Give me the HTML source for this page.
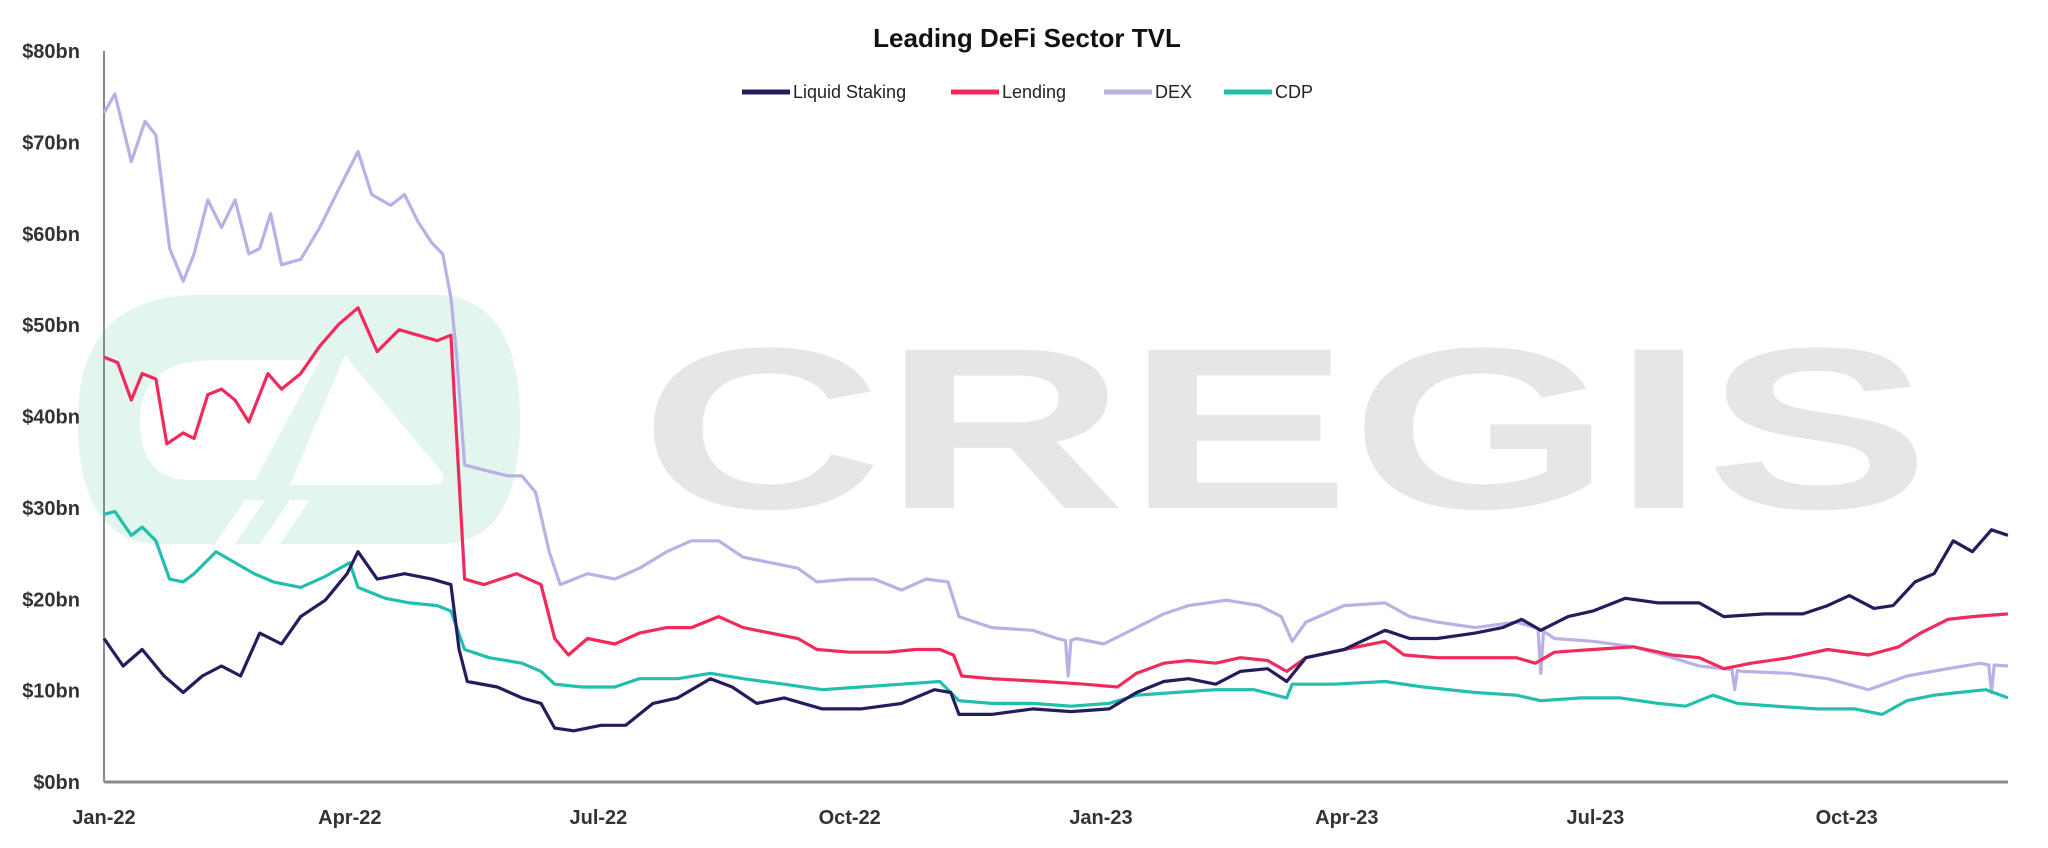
<!DOCTYPE html>
<html><head><meta charset="utf-8"><style>
html,body{margin:0;padding:0;background:#fff;}
svg{display:block;font-family:"Liberation Sans",sans-serif;}
</style></head><body>
<svg id="chart" width="2048" height="848" viewBox="0 0 2048 848">
  <g>
    <path d="M230 295 L440 295 Q520 300 520 420 Q520 544 440 544 L160 544 Q78 544 78 420 Q78 295 200 295 Z" fill="#e2f5ee"/>
    <path d="M215 360 L320 360 L255 480 L190 480 Q140 480 140 420 Q140 360 215 360 Z" fill="#ffffff"/>
    <path d="M345 355 L440 470 Q450 485 430 485 L290 485 Z" fill="#ffffff"/>
    <path d="M245 500 L265 500 L235 544 L215 544 Z M290 500 L310 500 L280 544 L260 544 Z" fill="#ffffff"/>
    <text x="640" y="508" font-size="230" font-weight="bold" fill="#e6e6e6" textLength="1290" lengthAdjust="spacingAndGlyphs">CREGIS</text>
  </g>
  <text x="1027" y="47" text-anchor="middle" font-size="26" font-weight="bold" fill="#111">Leading DeFi Sector TVL</text>
  <g id="legend"></g>
  <g id="yaxis"></g>
  <g id="xaxis"></g>
  <g id="series"></g>
</svg>
<script>
const yTicks=[0,10,20,30,40,50,60,70,80];
const yTickLabels=["$0bn","$10bn","$20bn","$30bn","$40bn","$50bn","$60bn","$70bn","$80bn"];
const xTickDays=[0,90,181,273,365,455,546,638];
const xTickLabels=["Jan-22","Apr-22","Jul-22","Oct-22","Jan-23","Apr-23","Jul-23","Oct-23"];
const seriesNames=["DEX","Lending","CDP","Liquid Staking"];
const legendNames=["Liquid Staking","Lending","DEX","CDP"];

const dexDays=[0,4,10,15,19,24,29,33,38,43,48,53,57,61,65,72,79,86,93,98,105,110,115,120,124,127,129,132,141,148,153,158,163,167,177,187,196,206,215,225,234,244,254,261,273,282,292,301,309,313,325,340,349,352,353,354,356,366,378,388,397,411,423,431,435,440,454,469,478,488,502,517,524,525,526,527,531,545,560,574,584,593,596,597,598,600,617,631,646,660,675,687,690,691,692,697];
const dexVals=[73.2,75.3,67.9,72.3,70.8,58.4,54.8,57.8,63.7,60.7,63.7,57.8,58.4,62.2,56.6,57.2,60.7,64.9,69,64.3,63.1,64.3,61.3,59,57.8,53,47,34.7,34,33.5,33.5,31.7,25.2,21.6,22.8,22.2,23.4,25.2,26.4,26.4,24.6,24,23.4,21.9,22.2,22.2,21,22.2,21.9,18.1,16.9,16.6,15.7,15.5,11.6,15.5,15.7,15.1,16.9,18.4,19.3,19.9,19.3,18.1,15.4,17.5,19.3,19.6,18.1,17.5,16.9,17.5,16.9,16.8,11.9,16.5,15.7,15.4,14.8,13.6,12.7,12.4,12.3,10.1,12.2,12.1,11.9,11.3,10.1,11.6,12.4,13,12.8,9.8,12.8,12.7];

const lsDays=[0,7,14,22,29,36,43,50,57,65,72,81,89,93,100,110,120,127,130,133,144,153,160,165,172,182,191,201,210,222,230,239,249,263,277,292,304,310,313,325,340,354,368,378,388,397,407,416,426,433,440,454,469,478,488,502,512,519,526,536,545,557,569,584,593,608,622,631,639,648,655,663,670,677,684,691,697];
const lsVals=[15.7,12.7,14.5,11.6,9.8,11.6,12.7,11.6,16.3,15.1,18.1,19.9,22.8,25.2,22.2,22.8,22.2,21.6,14.5,11,10.4,9.2,8.6,5.9,5.6,6.2,6.2,8.6,9.2,11.3,10.4,8.6,9.2,8,8,8.6,10.1,9.8,7.4,7.4,8,7.7,8,9.8,11,11.3,10.7,12.1,12.4,11,13.6,14.5,16.6,15.7,15.7,16.3,16.9,17.8,16.6,18.1,18.7,20.1,19.6,19.6,18.1,18.4,18.4,19.3,20.4,19,19.3,21.9,22.8,26.4,25.2,27.6,27];

const lendDays=[0,5,10,14,19,23,29,33,38,43,48,53,60,65,72,79,86,93,100,108,115,122,127,129,132,139,151,160,165,170,177,187,196,206,215,225,234,244,254,261,273,287,297,306,311,314,325,344,359,371,378,388,397,407,416,426,433,440,454,469,476,488,502,517,524,531,545,560,574,584,593,603,617,631,646,657,665,675,684,697];
const lendVals=[46.5,45.9,41.8,44.7,44.1,37,38.2,37.6,42.4,43,41.8,39.4,44.7,43,44.7,47.7,50.1,51.9,47.1,49.5,48.9,48.3,48.9,38.2,22.2,21.6,22.8,21.6,15.7,13.9,15.7,15.1,16.3,16.9,16.9,18.1,16.9,16.3,15.7,14.5,14.2,14.2,14.5,14.5,13.9,11.6,11.3,11,10.7,10.4,11.9,13,13.3,13,13.6,13.3,12.1,13.6,14.5,15.4,13.9,13.6,13.6,13.6,13,14.2,14.5,14.8,13.9,13.6,12.4,13,13.6,14.5,13.9,14.8,16.3,17.8,18.1,18.4];

const cdpDays=[0,4,10,14,19,24,29,33,41,48,55,62,72,81,90,93,103,112,122,127,132,141,153,160,165,175,187,196,210,222,234,249,263,277,292,306,313,325,340,354,368,378,392,407,421,433,435,450,469,483,502,517,526,541,555,569,579,589,598,612,627,641,651,660,670,679,689,697];
const cdpVals=[29.3,29.6,27,27.9,26.4,22.2,21.9,22.8,25.2,24,22.8,21.9,21.3,22.5,24,21.3,20.1,19.6,19.3,18.7,14.5,13.6,13,12.1,10.7,10.4,10.4,11.3,11.3,11.9,11.3,10.7,10.1,10.4,10.7,11,8.9,8.6,8.6,8.3,8.6,9.5,9.8,10.1,10.1,9.2,10.7,10.7,11,10.4,9.8,9.5,8.9,9.2,9.2,8.6,8.3,9.5,8.6,8.3,8,8,7.4,8.9,9.5,9.8,10.1,9.2];

const NS="http://www.w3.org/2000/svg";
const X0=104, PX_PER_YEAR=997, Y0=782, Y80=51;
function xScale(d){return X0+d/365*PX_PER_YEAR;}
function yScale(v){return Y0-(v/80)*(Y0-Y80);}
function mk(tag,attrs,parent){const e=document.createElementNS(NS,tag);for(const k in attrs)e.setAttribute(k,attrs[k]);parent.appendChild(e);return e;}

const yaxis=document.getElementById('yaxis');
yTicks.forEach((v,i)=>{
  const t=mk('text',{x:80,y:yScale(v)+7,'text-anchor':'end','font-size':20,'font-weight':'bold',fill:'#333'},yaxis);
  
  
  t.textContent=yTickLabels[i];
});
const yl=mk('line',{x1:X0,y1:Y80,x2:X0,y2:Y0,stroke:'#8a8a8a','stroke-width':2},yaxis);



const xaxis=document.getElementById('xaxis');
const xl=mk('line',{x1:X0,y1:Y0,x2:2008,y2:Y0,stroke:'#8a8a8a','stroke-width':3},xaxis);


xTickDays.forEach((d,i)=>{
  const t=mk('text',{x:xScale(d),y:824,'text-anchor':'middle','font-size':20,'font-weight':'bold',fill:'#333'},xaxis);
  
  
  t.textContent=xTickLabels[i];
});

const colors={"Liquid Staking":"#251c5e","Lending":"#f12a5c","DEX":"#b9b1e6","CDP":"#22bfae"};
const dataMap={"DEX":[dexDays,dexVals],"Lending":[lendDays,lendVals],"CDP":[cdpDays,cdpVals],"Liquid Staking":[lsDays,lsVals]};
const sg=document.getElementById('series');
seriesNames.forEach(n=>{
  const [ds,vs]=dataMap[n];
  const pts=ds.map((d,i)=>xScale(d).toFixed(1)+','+yScale(vs[i]).toFixed(1)).join(' ');
  const p=mk('polyline',{points:pts,fill:'none',stroke:colors[n],'stroke-width':3.2,'stroke-linejoin':'round'},sg);
  
  
});

const lg=document.getElementById('legend');
const legendX=[742,951,1104,1224];
legendNames.forEach((n,i)=>{
  const g=mk('g',{},lg);
  
  
  mk('line',{x1:legendX[i],y1:92,x2:legendX[i]+48,y2:92,stroke:colors[n],'stroke-width':5},g);
  const t=mk('text',{x:legendX[i]+51,y:98,'font-size':18,fill:'#222'},g);
  t.textContent=n;
});
</script>
</body></html>
